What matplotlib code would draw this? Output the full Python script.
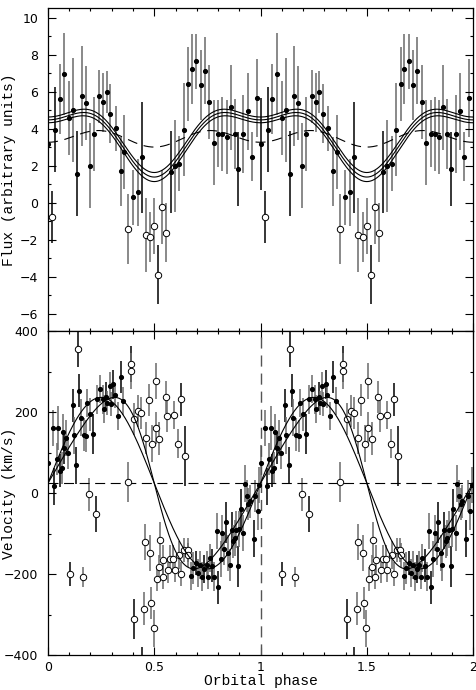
import numpy as np
import matplotlib.pyplot as plt
from matplotlib.ticker import MultipleLocator

# ---- flux panel: one orbital cycle, plotted again at phase + 1 ----
flux_phase = [0.002, 0.020, 0.034, 0.056, 0.077, 0.100, 0.119, 0.138, 0.158, 0.177,
              0.197, 0.216, 0.240, 0.260, 0.276, 0.293, 0.318, 0.342, 0.359, 0.376,
              0.398, 0.422, 0.442, 0.459, 0.480, 0.500, 0.519, 0.538, 0.556, 0.577,
              0.597, 0.617, 0.639, 0.660, 0.677, 0.697, 0.718, 0.738, 0.758, 0.779,
              0.802, 0.821, 0.840, 0.859, 0.879, 0.896, 0.918, 0.940, 0.959, 0.983]
flux_val = [3.20, -0.77, 3.96, 5.62, 6.97, 4.59, 5.04, 1.57, 5.76, 5.40,
            2.01, 3.74, 5.76, 5.45, 6.01, 4.82, 4.03, 1.70, 2.73, -1.39,
            0.30, 0.58, 2.48, -1.71, -1.82, -1.24, -3.89, -0.21, -1.62, 1.68,
            2.01, 2.12, 3.96, 6.44, 7.26, 7.65, 6.39, 7.16, 5.47, 3.25,
            3.74, 3.74, 3.58, 5.18, 3.74, 1.84, 3.74, 4.95, 2.51, 5.67]
flux_err = [2.5, 1.4, 2.3, 1.9, 2.2, 2.0, 2.8, 2.3, 2.7, 2.0,
            2.3, 2.0, 1.45, 1.6, 1.15, 1.6, 1.2, 1.85, 2.0, 1.9,
            1.5, 1.8, 3.0, 2.0, 1.35, 1.5, 1.6, 2.0, 1.6, 2.2,
            2.5, 1.5, 2.5, 2.0, 1.9, 1.5, 1.9, 1.8, 2.0, 2.3,
            1.8, 2.0, 2.0, 2.3, 1.9, 2.0, 2.1, 2.1, 1.35, 2.1]
flux_open = [0, 1, 0, 0, 0, 0, 0, 0, 0, 0,
             0, 0, 0, 0, 0, 0, 0, 0, 0, 1,
             0, 0, 0, 1, 1, 1, 1, 1, 1, 0,
             0, 0, 0, 0, 0, 0, 0, 0, 0, 0,
             0, 0, 0, 0, 0, 0, 0, 0, 0, 0]
flux_dark = [1, 1, 1, 0, 0, 0, 0, 1, 0, 0,
             0, 0, 0, 0, 0, 0, 0, 0, 0, 0,
             0, 0, 1, 0, 0, 0, 1, 0, 0, 1,
             0, 0, 0, 0, 0, 0, 0, 0, 0, 0,
             0, 0, 0, 0, 0, 1, 0, 0, 0, 0]

# flux model: a + b cos(2 pi phi) + c cos(4 pi phi)
flux_fit = (3.727, 1.545, -0.782)
flux_band = (0.20, 0.045)
flux_alt = (3.53, 0.13, -0.38)

# ---- velocity panel ----
vel_phase = [0.000, 0.022, 0.030, 0.041, 0.049, 0.056, 0.064, 0.069, 0.077, 0.086,
             0.096, 0.116, 0.122, 0.132, 0.147, 0.154, 0.169, 0.179, 0.185, 0.199,
             0.213, 0.229, 0.244, 0.257, 0.263, 0.273, 0.279, 0.291, 0.295, 0.307,
             0.315, 0.329, 0.342, 0.354, 0.674, 0.683, 0.697, 0.707, 0.716, 0.727,
             0.735, 0.746, 0.754, 0.762, 0.773, 0.782, 0.793, 0.802, 0.812, 0.821,
             0.829, 0.837, 0.848, 0.856, 0.864, 0.871, 0.879, 0.887, 0.895, 0.900,
             0.907, 0.918, 0.926, 0.936, 0.943, 0.950, 0.967, 0.975, 0.986, 0.994]
vel_val = [74, 161, 17, 84, 161, 56, 63, 151, 112, 137,
           100, 217, 143, 69, 254, 187, 145, 141, 224, 195,
           147, 232, 257, 232, 209, 239, 224, 265, 221, 269,
           242, 191, 288, 228, -204, -185, -173, -198, -177, -206,
           -188, -177, -207, -160, -179, -206, -93, -233, -163, -98,
           -138, -72, -148, -177, -92, -119, -111, -90, -181, -88,
           -40, -98, 24, -7, -26, -20, -112, -7, -45, 21]
vel_err = [45, 45, 45, 40, 55, 40, 40, 45, 40, 45,
           40, 40, 45, 45, 40, 45, 40, 40, 35, 40,
           50, 35, 35, 35, 35, 35, 30, 35, 30, 35,
           30, 35, 40, 35, 35, 40, 30, 35, 35, 35,
           35, 35, 30, 35, 40, 35, 45, 40, 45, 45,
           40, 50, 45, 40, 45, 40, 45, 45, 50, 45,
           50, 45, 45, 40, 40, 40, 45, 40, 45, 45]
vel_dark = [0, 0, 1, 0, 0, 1, 0, 0, 1, 0,
            0, 1, 0, 1, 1, 0, 0, 0, 0, 0,
            1, 0, 0, 0, 0, 1, 0, 0, 0, 1,
            0, 0, 1, 0, 0, 0, 1, 0, 0, 0,
            1, 0, 0, 0, 1, 0, 0, 1, 0, 0,
            0, 1, 0, 0, 1, 0, 0, 0, 1, 0,
            1, 0, 0, 0, 0, 0, 1, 0, 0, 0]

velo_phase = [0.103, 0.139, 0.163, 0.194, 0.226, 0.375, 0.390, 0.390, 0.407, 0.407,
              0.425, 0.440, 0.442, 0.454, 0.458, 0.459, 0.475, 0.480, 0.487, 0.491,
              0.498, 0.506, 0.506, 0.511, 0.523, 0.523, 0.528, 0.539, 0.542, 0.553,
              0.561, 0.566, 0.575, 0.589, 0.594, 0.596, 0.613, 0.617, 0.628, 0.628,
              0.641, 0.646, 0.657, 0.660]
velo_val = [-199, 356, -207, -3, -51, 28, 319, 302, 183, -311,
            203, 198, -440, -285, -121, 137, 230, -148, -272, 123,
            -334, 278, 162, -212, 135, -183, -116, -207, -164, 238,
            191, -191, -163, -163, 193, -189, 123, -152, 232, -199,
            -140, 92, -140, -152]
velo_err = [30, 45, 25, 40, 45, 50, 45, 45, 40, 50,
            40, 40, 60, 40, 45, 40, 40, 45, 40, 45,
            45, 45, 40, 30, 40, 30, 45, 30, 35, 40,
            40, 30, 35, 35, 35, 30, 35, 35, 40, 30,
            30, 75, 30, 30]
velo_dark = [1, 1, 0, 0, 1, 0, 1, 0, 0, 1,
             0, 0, 1, 0, 0, 0, 0, 0, 0, 0,
             0, 0, 0, 0, 0, 0, 0, 0, 0, 0,
             0, 0, 0, 0, 0, 0, 0, 0, 1, 0,
             0, 1, 0, 0]

vel_gamma = 25.0
vel_K = 212.0
vel_ecc = 0.2
vel_omega = 90.0
vel_peri = 0.5


def two_cycles(x, *others):
    x = np.asarray(x, float)
    out = [np.concatenate([x, x + 1])]
    for o in others:
        o = np.asarray(o)
        out.append(np.concatenate([o, o]))
    return out


def kepler_velocity(ph):
    M = 2 * np.pi * (ph - vel_peri)
    E = M.copy()
    for _ in range(30):
        E = E - (E - vel_ecc * np.sin(E) - M) / (1 - vel_ecc * np.cos(E))
    nu = 2 * np.arctan2(np.sqrt(1 + vel_ecc) * np.sin(E / 2),
                        np.sqrt(1 - vel_ecc) * np.cos(E / 2))
    w = np.radians(vel_omega)
    return vel_gamma + vel_K * (np.cos(nu + w) + vel_ecc * np.cos(w))


grey = '#6a6a6a'
label_font = dict(family=['Liberation Mono', 'DejaVu Sans Mono'], fontsize=10.5)
fig = plt.figure(figsize=(4.76, 6.9), dpi=100)
ax1 = fig.add_axes([0.1008, 0.5196, 0.893, 0.4688])
ax2 = fig.add_axes([0.1008, 0.0507, 0.893, 0.4689])

ph = np.linspace(0, 2, 800)

# flux panel
x, y, e, op, dk = two_cycles(flux_phase, flux_val, flux_err, flux_open, flux_dark)
ax1.vlines(x, y - e, y + e, colors=np.where(dk == 1, 'black', grey), lw=1.1, zorder=1)
ax1.plot(x[op == 0], y[op == 0], 'o', color='black', ms=2.7, zorder=3)
ax1.plot(x[op == 1], y[op == 1], 'o', mfc='white', mec='black', ms=4.6, mew=0.7, zorder=3)
a, b, c = flux_fit
fmod = a + b * np.cos(2 * np.pi * ph) + c * np.cos(4 * np.pi * ph)
band = flux_band[0] - flux_band[1] * np.cos(2 * np.pi * ph)
for s in (-1, 0, 1):
    ax1.plot(ph, fmod + s * band, color='black', lw=0.8, zorder=4)
a, b, c = flux_alt
ax1.plot(ph, a + b * np.cos(2 * np.pi * ph) + c * np.cos(4 * np.pi * ph),
         color='black', lw=0.8, dashes=(9, 6), zorder=2)
ax1.set_ylim(-6.95, 10.54)
ax1.yaxis.set_major_locator(MultipleLocator(2))
ax1.yaxis.set_minor_locator(MultipleLocator(1))
ax1.set_ylabel('Flux (arbitrary units)', **label_font)
ax1.tick_params(labelbottom=False)

# velocity panel
x, y, e, dk = two_cycles(vel_phase, vel_val, vel_err, vel_dark)
ax2.vlines(x, y - e, y + e, colors=np.where(dk == 1, 'black', grey), lw=1.1, zorder=1)
ax2.plot(x, y, 'o', color='black', ms=2.7, zorder=3)
x, y, e, dk = two_cycles(velo_phase, velo_val, velo_err, velo_dark)
ax2.vlines(x, y - e, y + e, colors=np.where(dk == 1, 'black', grey), lw=1.1, zorder=1)
ax2.plot(x, y, 'o', mfc='white', mec='black', ms=4.6, mew=0.7, zorder=3)
ax2.plot(ph, vel_gamma + vel_K * np.sin(2 * np.pi * ph), color='black', lw=0.8, zorder=4)
ax2.plot(ph, kepler_velocity(ph), color='black', lw=0.8, zorder=4)
ax2.axhline(vel_gamma, color='black', lw=0.8, dashes=(9, 5), zorder=2)
ax2.axvline(1.0, color='#555555', lw=1.0, dashes=(8, 5), zorder=2)
ax2.set_ylim(-400, 400)
ax2.yaxis.set_major_locator(MultipleLocator(200))
ax2.yaxis.set_minor_locator(MultipleLocator(100))
ax2.set_ylabel('Velocity (km/s)', **label_font)
ax2.set_xlabel('Orbital phase', labelpad=0, **label_font)
ax2.set_xticks([0, 0.5, 1, 1.5, 2])
ax2.set_xticklabels(['0', '0.5', '1', '1.5', '2'])

for ax in (ax1, ax2):
    ax.set_xlim(0, 2)
    ax.xaxis.set_minor_locator(MultipleLocator(0.1))
    if ax is ax1:
        ax.xaxis.set_major_locator(MultipleLocator(0.5))
    ax.tick_params(which='both', direction='in', top=True, right=True,
                   labelsize=9, width=0.8)
    ax.tick_params(which='major', length=5.5)
    ax.tick_params(which='minor', length=2.5)
    ax.tick_params(axis='y', pad=7)
    ax.tick_params(axis='x', pad=4)
    for sp in ax.spines.values():
        sp.set_linewidth(0.9)
    ax.yaxis.set_label_coords(-0.075, 0.5)

fig.savefig('out.png', dpi=100)
